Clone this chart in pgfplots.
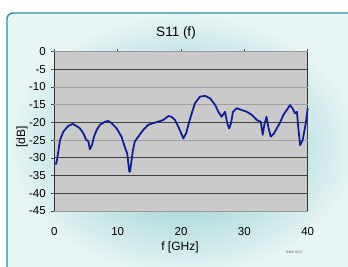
\documentclass[border=0pt]{standalone}
\usepackage{pgfplots}
\pgfplotsset{compat=1.18}
\usepackage{fontspec}
\setmainfont{Liberation Sans}
\definecolor{panelbase}{RGB}{205,234,234}
\definecolor{panelinner}{RGB}{125,196,196}
\definecolor{panelouter}{RGB}{232,245,245}
\definecolor{panelborder}{RGB}{40,150,150}
\definecolor{plotbg}{RGB}{202,202,202}
\definecolor{trace}{RGB}{20,30,150}
\begin{document}
\begin{tikzpicture}[x=1pt,y=1pt]
\useasboundingbox (0,0) rectangle (348,267);
\begin{scope}
\clip (0,0) rectangle (348,267);
\fill[panelbase, rounded corners=6pt] (7,-10) rectangle (360,254);
\shade[inner color=panelinner, outer color=panelouter, rounded corners=6pt] (7,-10) rectangle (360,254);
\draw[panelborder, line width=1.4pt, rounded corners=6pt] (7,-10) rectangle (360,254);
\end{scope}
\begin{axis}[
  at={(54.3pt,56pt)}, anchor=south west,
  scale only axis, width=253.4pt, height=159.4pt,
  xmin=0, xmax=40, ymin=-45, ymax=0,
  xtick={0,10,20,30,40},
  ytick={-45,-40,-35,-30,-20,-5,0},
  extra y ticks={-25,-15,-10},
  extra y tick style={grid style={gray!75, line width=0.8pt}},
  ymajorgrids,
  grid style={black!75, line width=0.9pt},
  axis background/.style={fill=plotbg},
  separate axis lines,
  axis line style={draw=gray!80},
  y axis line style={draw=black!80, line width=0.8pt},
  xtick pos=top, xticklabel pos=bottom,
  ytick pos=left,
  tick align=outside,
  major tick length=3pt,
  tick style={black!70, line width=0.6pt},
  /pgf/number format/assume math mode=true,
  ticklabel style={font=\fontsize{11.5}{13}\selectfont},
  xticklabel style={yshift=-10pt},
  yticklabel style={xshift=-2pt},
  clip=false,
]
\addplot[trace, line width=1.8pt, line join=round] coordinates {
(0.11,-31.5) (0.3,-31.7) (0.47,-30.1) (0.9,-25.0) (1.42,-22.6) (2.2,-21.0)
(2.9,-20.4) (3.5,-21.0) (4.06,-21.7) (4.6,-23.1) (5.0,-24.8) (5.4,-25.4)
(5.6,-27.6) (5.95,-26.4) (6.27,-24.0) (6.7,-22.1) (7.2,-20.7) (8.0,-19.8)
(8.5,-19.6) (9.06,-20.2) (9.85,-21.7) (10.6,-24.0) (11.2,-27.3) (11.5,-28.7)
(11.84,-33.9) (11.95,-33.9) (12.06,-32.5) (12.4,-28.0) (12.7,-25.4) (13.26,-24.0)
(14.05,-22.1) (14.8,-20.7) (15.6,-20.2) (16.4,-19.8) (17.2,-19.3) (18.0,-18.2)
(18.5,-18.4) (19.05,-19.3) (19.7,-21.7) (20.36,-24.5) (20.8,-23.1) (21.3,-19.8)
(21.7,-17.4) (22.2,-14.6) (23.0,-12.7) (23.8,-12.5) (24.6,-13.2) (25.4,-15.1)
(25.9,-17.0) (26.4,-18.4) (26.95,-17.0) (27.3,-20.2) (27.6,-21.7) (27.9,-20.2)
(28.2,-17.0) (28.8,-16.0) (29.6,-16.5) (30.4,-17.0) (31.2,-17.9) (31.95,-19.3)
(32.6,-19.8) (32.9,-23.5) (33.15,-20.7) (33.5,-18.4) (33.77,-21.2) (34.15,-24.0)
(34.7,-23.1) (35.1,-21.7) (35.6,-20.2) (36.15,-17.9) (36.7,-16.5) (37.2,-15.1)
(37.6,-16.0) (37.99,-17.4) (38.3,-17.0) (38.5,-21.2) (38.8,-26.4) (39.2,-25.0)
(39.7,-20.2) (40.0,-16.0)
};
\end{axis}
\node[font=\fontsize{13.5}{15}\selectfont] at (176,234) {S11 (f)};
\node[font=\fontsize{12}{14}\selectfont] at (180,20) {f [GHz]};
\node[font=\fontsize{12}{14}\selectfont, rotate=90] at (22,130) {[dB]};
\node[font=\fontsize{3.5}{4}\selectfont, gray!70!black] at (294,15) {GWV 0/13};
\end{tikzpicture}
\end{document}
